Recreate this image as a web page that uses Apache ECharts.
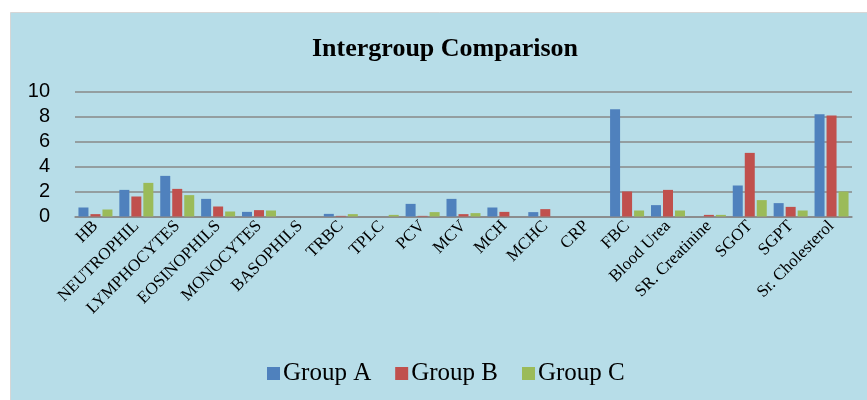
<!DOCTYPE html>
<html><head><meta charset="utf-8">
<script src="https://cdn.jsdelivr.net/npm/echarts@6/dist/echarts.min.js"></script>
<style>html,body{margin:0;padding:0;background:#fff}#c{width:867px;height:400px}</style>
</head><body><div id="c"></div>
<script>
const categories = ["HB","NEUTROPHIL","LYMPHOCYTES","EOSINOPHILS","MONOCYTES","BASOPHILS","TRBC","TPLC","PCV","MCV","MCH","MCHC","CRP","FBC","Blood Urea","SR. Creatinine","SGOT","SGPT","Sr. Cholesterol"];
const groupA = [0.72,2.13,3.25,1.41,0.37,0,0.21,0,1.01,1.41,0.72,0.35,0,8.59,0.91,0,2.48,1.07,8.19];
const groupB = [0.19,1.6,2.21,0.8,0.51,0,0.05,0,0.05,0.19,0.37,0.59,0,2.0,2.13,0.13,5.09,0.77,8.08];
const groupC = [0.56,2.69,1.71,0.4,0.48,0,0.19,0.13,0.35,0.27,0,0,0,0.48,0.48,0.13,1.31,0.48,2.0];
const yTicks = [0,2,4,6,8,10];
const seriesNames = ["Group A","Group B","Group C"];
const colors = ["#4f81bd","#c0504d","#9bbb59"];

const chart = echarts.init(document.getElementById('c'), null, {renderer:'canvas'});
const serif = '"Liberation Serif","Times New Roman",serif';
function mk(name, data, i){
  return {name, type:'bar', data, barWidth:10, barGap:'20%',
    itemStyle:{color:colors[i], borderWidth:0}};
}
chart.setOption({
  backgroundColor:'#ffffff',
  animation:false,
  graphic:[{type:'rect', shape:{x:10.5,y:12.5,width:860,height:400}, style:{fill:'#b7dde8', stroke:'#d6d6d6', lineWidth:1}, z:-10}],
  title:{text:'Intergroup Comparison', left:307, top:31,
    textStyle:{fontFamily:serif, fontWeight:'bold', fontSize:26, color:'#000'}},
  legend:{bottom:9, left:262, itemWidth:13, itemHeight:13, itemGap:24,
    icon:'rect', textStyle:{fontFamily:serif, fontSize:25, color:'#000', padding:[0,0,0,-2]}},
  grid:{left:75, right:15, top:91.5, bottom:183.5, containLabel:false},
  xAxis:{type:'category', data:categories,
    axisLine:{lineStyle:{color:'#888', width:1.5}},
    axisTick:{show:false},
    axisLabel:{interval:0, rotate:45, margin:7, fontFamily:serif, fontSize:17, color:'#000'}},
  yAxis:{type:'value', min:yTicks[0], max:yTicks[yTicks.length-1], interval:2,
    axisLine:{show:false}, axisTick:{show:false},
    splitLine:{lineStyle:{color:'#888', width:1.5}},
    axisLabel:{margin:25, fontFamily:'"Liberation Sans",Arial,sans-serif', fontSize:20, color:'#000'}},
  series:[mk(seriesNames[0],groupA,0), mk(seriesNames[1],groupB,1), mk(seriesNames[2],groupC,2)]
});
</script></body></html>
